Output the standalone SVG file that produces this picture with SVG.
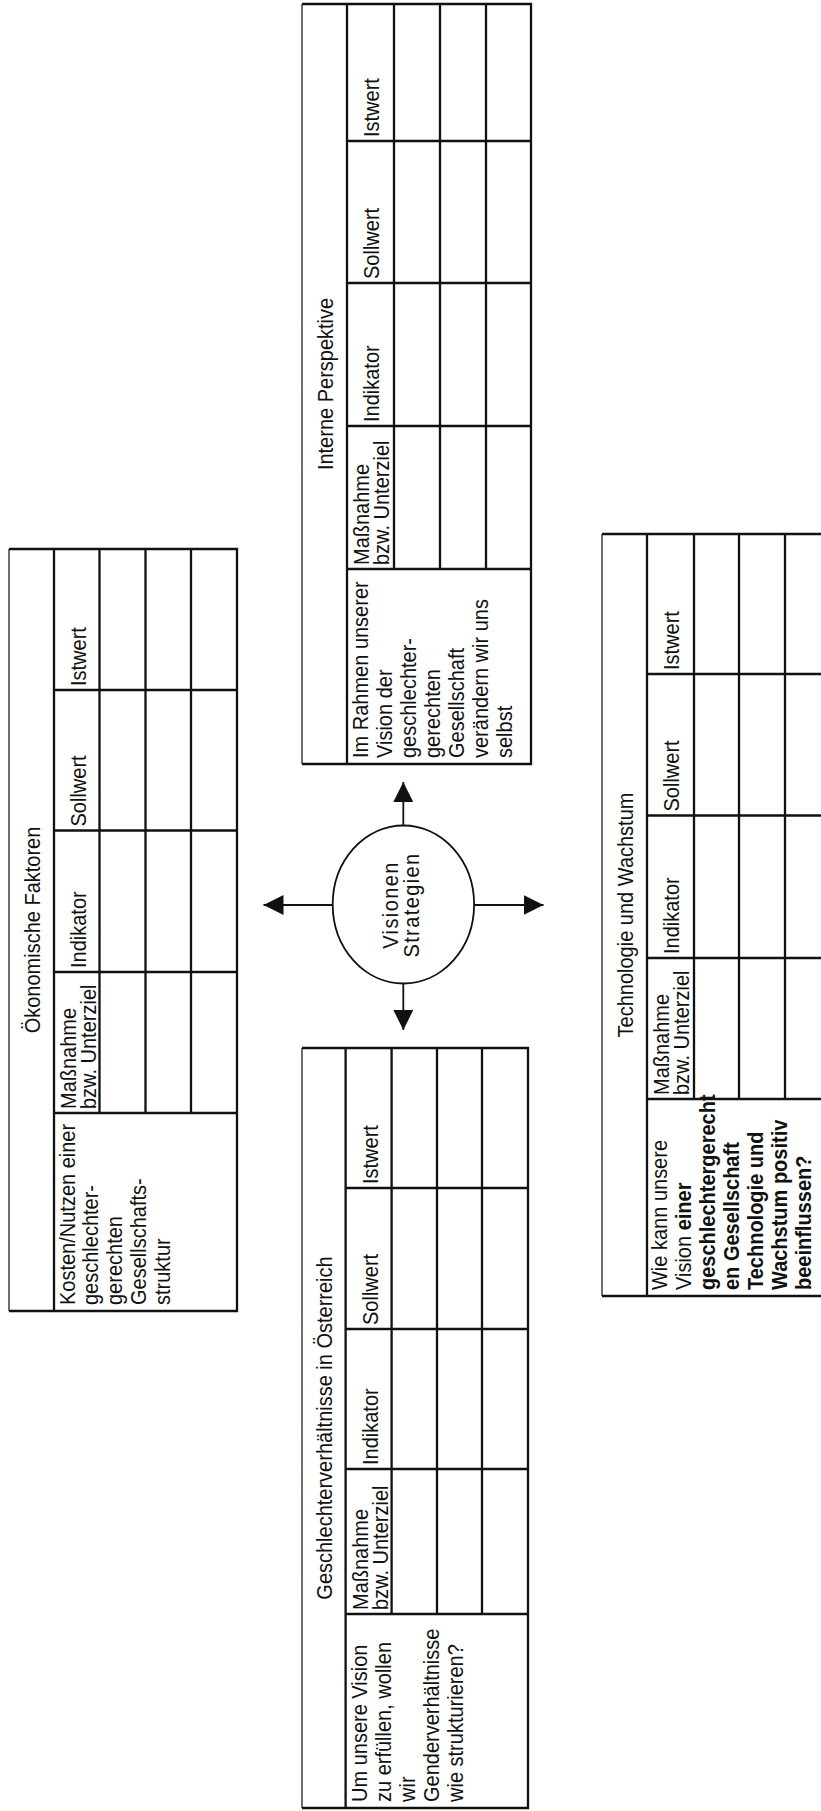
<svg xmlns="http://www.w3.org/2000/svg" width="821" height="1811" viewBox="0 0 821 1811">
<defs>
<style>
.b{stroke:#111;stroke-width:2.3;fill:none}
.t{stroke:#222;stroke-width:1.3;fill:none}
.c{stroke:#111;stroke-width:1.8;fill:none}
text{font-family:"Liberation Sans",Arial,sans-serif;font-size:20px;fill:#111}
.m{text-anchor:middle}
.bd{font-weight:bold}
</style>
<marker id="ah" viewBox="0 0 20 20" refX="20" refY="10" markerWidth="20" markerHeight="20" markerUnits="userSpaceOnUse" orient="auto">
<path d="M0,0 L20,10 L0,20 z" fill="#111"/>
</marker>
</defs>
<rect width="821" height="1811" fill="#fff"/>

<!-- T1 Ökonomische Faktoren -->
<g id="t1">
<line class="t" x1="9" y1="549" x2="9" y2="1311"/>
<path class="b" d="M9,549 H237 V1311 H9 M54,549 V1311 M99.5,549 V1113 M145.5,549 V1113 M191,549 V1113 M54,690 H237 M54,830.5 H237 M54,972 H237 M54,1113 H237"/>
<text class="m" transform="translate(39.5,930) scale(1.1,1) rotate(-90)">Ökonomische Faktoren</text>
<text transform="translate(86,686) scale(1.1,1) rotate(-90)">Istwert</text>
<text transform="translate(86,826.5) scale(1.1,1) rotate(-90)">Sollwert</text>
<text transform="translate(86,968) scale(1.1,1) rotate(-90)">Indikator</text>
<text transform="translate(76,1109) scale(1.1,1) rotate(-90)">Maßnahme<tspan x="0" dy="18.5">bzw. Unterziel</tspan></text>
<text transform="translate(74.5,1305) scale(1.1,1) rotate(-90)">Kosten/Nutzen einer<tspan x="0" dy="21.8">geschlechter-</tspan><tspan x="0" dy="21.8">gerechten</tspan><tspan x="0" dy="21.8">Gesellschafts-</tspan><tspan x="0" dy="21.8">struktur</tspan></text>
</g>

<!-- T2 Interne Perspektive -->
<g id="t2">
<line class="t" x1="302" y1="4" x2="302" y2="764"/>
<path class="b" d="M302,4 H531 V764 H302 M347,4 V764 M394,4 V569 M440,4 V569 M486,4 V569 M347,141 H531 M347,283 H531 M347,426 H531 M347,569 H531"/>
<text class="m" transform="translate(332.5,384) scale(1.1,1) rotate(-90)">Interne Perspektive</text>
<text transform="translate(379,137) scale(1.1,1) rotate(-90)">Istwert</text>
<text transform="translate(379,279) scale(1.1,1) rotate(-90)">Sollwert</text>
<text transform="translate(379,422) scale(1.1,1) rotate(-90)">Indikator</text>
<text transform="translate(369,565) scale(1.1,1) rotate(-90)">Maßnahme<tspan x="0" dy="18.5">bzw. Unterziel</tspan></text>
<text transform="translate(368,758) scale(1.1,1) rotate(-90)">Im Rahmen unserer<tspan x="0" dy="21.8">Vision der</tspan><tspan x="0" dy="21.8">geschlechter-</tspan><tspan x="0" dy="21.8">gerechten</tspan><tspan x="0" dy="21.8">Gesellschaft</tspan><tspan x="0" dy="21.8">verändern wir uns</tspan><tspan x="0" dy="21.8">selbst</tspan></text>
</g>

<!-- T3 Geschlechterverhältnisse in Österreich -->
<g id="t3">
<line class="t" x1="302" y1="1048" x2="302" y2="1808"/>
<path class="b" d="M302,1048 H528 V1808 H302 M345.6,1048 V1808 M391.6,1048 V1614 M437,1048 V1614 M482,1048 V1614 M345.6,1188 H528 M345.6,1329 H528 M345.6,1469 H528 M345.6,1614 H528"/>
<text class="m" transform="translate(332,1428) scale(1.1,1) rotate(-90)">Geschlechterverhältnisse in Österreich</text>
<text transform="translate(377.6,1184) scale(1.1,1) rotate(-90)">Istwert</text>
<text transform="translate(377.6,1325) scale(1.1,1) rotate(-90)">Sollwert</text>
<text transform="translate(377.6,1465) scale(1.1,1) rotate(-90)">Indikator</text>
<text transform="translate(367.6,1610) scale(1.1,1) rotate(-90)">Maßnahme<tspan x="0" dy="18.5">bzw. Unterziel</tspan></text>
<text transform="translate(367,1802) scale(1.1,1) rotate(-90)">Um unsere Vision<tspan x="0" dy="21.8">zu erfüllen, wollen</tspan><tspan x="0" dy="21.8">wir</tspan><tspan x="0" dy="21.8">Genderverhältnisse</tspan><tspan x="0" dy="21.8">wie strukturieren?</tspan></text>
</g>

<!-- T4 Technologie und Wachstum -->
<g id="t4">
<line class="t" x1="602" y1="534" x2="602" y2="1296"/>
<path class="b" d="M831,534 H602 M602,1296 H831 M647,534 V1296 M694,534 V1099 M739,534 V1099 M785,534 V1099 M647,674 H831 M647,815.5 H831 M647,958 H831 M647,1099 H831"/>
<text class="m" transform="translate(632.5,915) scale(1.1,1) rotate(-90)">Technologie und Wachstum</text>
<text transform="translate(679,670) scale(1.1,1) rotate(-90)">Istwert</text>
<text transform="translate(679,811.5) scale(1.1,1) rotate(-90)">Sollwert</text>
<text transform="translate(679,954) scale(1.1,1) rotate(-90)">Indikator</text>
<text transform="translate(669,1095) scale(1.1,1) rotate(-90)">Maßnahme<tspan x="0" dy="18.5">bzw. Unterziel</tspan></text>
<text transform="translate(667,1290) scale(1.1,1) rotate(-90)">Wie kann unsere<tspan x="0" dy="21.8">Vision <tspan class="bd">einer</tspan></tspan><tspan x="0" dy="21.8" class="bd">geschlechtergerecht</tspan><tspan x="0" dy="21.8" class="bd">en Gesellschaft</tspan><tspan x="0" dy="21.8" class="bd">Technologie und</tspan><tspan x="0" dy="21.8" class="bd">Wachstum positiv</tspan><tspan x="0" dy="21.8" class="bd">beeinflussen?</tspan></text>
</g>

<!-- center node -->
<g id="center">
<ellipse class="c" cx="403.4" cy="904.5" rx="70.7" ry="79"/>
<text class="m" transform="translate(398,905) scale(1.1,1) rotate(-90)" letter-spacing="1.4">Visionen</text>
<text class="m" transform="translate(419,905) scale(1.1,1) rotate(-90)" letter-spacing="1.4">Strategien</text>
</g>

<!-- connectors -->
<g id="connectors" class="c" marker-end="url(#ah)">
<line x1="403.3" y1="825.5" x2="403.3" y2="782"/>
<line x1="332.7" y1="905" x2="263.5" y2="905"/>
<line x1="474.1" y1="905" x2="543.5" y2="905"/>
<line x1="403.3" y1="983.5" x2="403.3" y2="1030"/>
</g>
</svg>
